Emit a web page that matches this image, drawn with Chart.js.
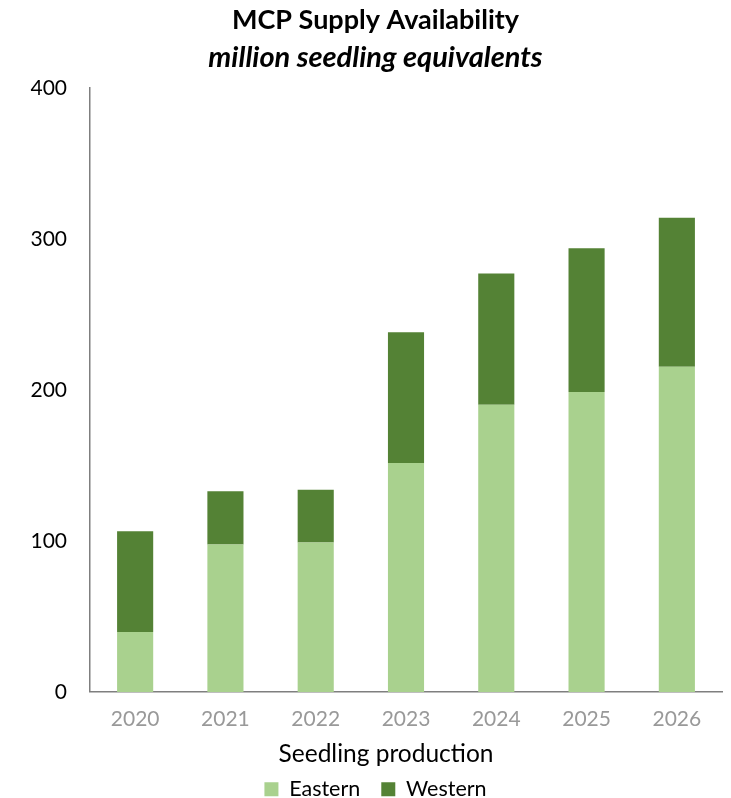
<!DOCTYPE html>
<html>
<head>
<meta charset="utf-8">
<script src="https://cdn.jsdelivr.net/npm/chart.js@4"></script>
<style>
  html, body { margin: 0; padding: 0; background: #fff; }
  #wrap { width: 731px; height: 798px; position: relative; }
</style>
</head>
<body>
<div id="wrap"><canvas id="supply-chart"></canvas></div>
<script>
const YEARS = ['2020', '2021', '2022', '2023', '2024', '2025', '2026'];
const EASTERN = [39.7, 97.6, 99.0, 151.6, 190.3, 198.7, 215.5];
const WESTERN = [66.8, 35.4, 34.9, 86.7, 86.9, 95.3, 98.6];
const Y_TICKS = [0, 100, 200, 300, 400];

const FONT = 'Lato, "Open Sans", sans-serif';
const AXIS_COLOR = '#7f7f7f';
const LEFT_PAD = 29;
const X_TITLE_SHIFT = -20;

// nudge the x axis title left of the plot centre
const shiftAxisTitle = {
  id: 'shiftAxisTitle',
  beforeDraw(chart) {
    const scale = chart.scales.x;
    if (!scale || scale.$titleShifted) {
      return;
    }
    const drawTitle = scale.drawTitle.bind(scale);
    scale.drawTitle = () => {
      chart.ctx.save();
      chart.ctx.translate(X_TITLE_SHIFT, 0);
      drawTitle();
      chart.ctx.restore();
    };
    scale.$titleShifted = true;
  }
};

new Chart(document.getElementById('supply-chart'), {
  type: 'bar',
  data: {
    labels: YEARS,
    datasets: [
      {
        label: 'Eastern',
        data: EASTERN,
        backgroundColor: '#a9d18e',
        borderWidth: 0,
        barPercentage: 0.4,
        categoryPercentage: 1
      },
      {
        label: 'Western',
        data: WESTERN,
        backgroundColor: '#548235',
        borderWidth: 0,
        barPercentage: 0.4,
        categoryPercentage: 1
      }
    ]
  },
  plugins: [shiftAxisTitle],
  options: {
    responsive: true,
    maintainAspectRatio: false,
    animation: false,
    layout: { padding: { top: 4, right: 9, left: LEFT_PAD, bottom: -12 } },
    plugins: {
      title: {
        display: true,
        text: 'MCP Supply Availability',
        color: '#000',
        font: { family: FONT, size: 27, weight: 'bold' },
        padding: { top: 0, bottom: 4 }
      },
      subtitle: {
        display: true,
        text: 'million seedling equivalents',
        color: '#000',
        font: { family: FONT, size: 29, weight: 'bold', style: 'italic' },
        padding: { top: 0, bottom: 13 }
      },
      legend: {
        position: 'bottom',
        labels: {
          color: '#000',
          font: { family: FONT, size: 21.5 },
          boxWidth: 14,
          boxHeight: 14,
          padding: 21
        }
      },
      tooltip: { enabled: false }
    },
    scales: {
      x: {
        stacked: true,
        grid: { display: false, drawTicks: false },
        border: { display: true, color: AXIS_COLOR, width: 1.5 },
        ticks: {
          color: '#999999',
          font: { family: FONT, size: 21 },
          padding: 15
        },
        title: {
          display: true,
          text: 'Seedling production',
          color: '#000',
          font: { family: FONT, size: 24.5 },
          padding: { top: -7.5, bottom: -11.5 }
        }
      },
      y: {
        stacked: true,
        min: 0,
        max: 400,
        afterFit: (scale) => { scale.width = 90 - LEFT_PAD; },
        afterBuildTicks: (scale) => {
          scale.ticks = Y_TICKS.map((value) => ({ value }));
        },
        grid: { display: false, drawTicks: false },
        border: { display: true, color: AXIS_COLOR, width: 1.5 },
        ticks: {
          color: '#000',
          font: { family: FONT, size: 21 },
          padding: 23
        }
      }
    }
  }
});
</script>
</body>
</html>
